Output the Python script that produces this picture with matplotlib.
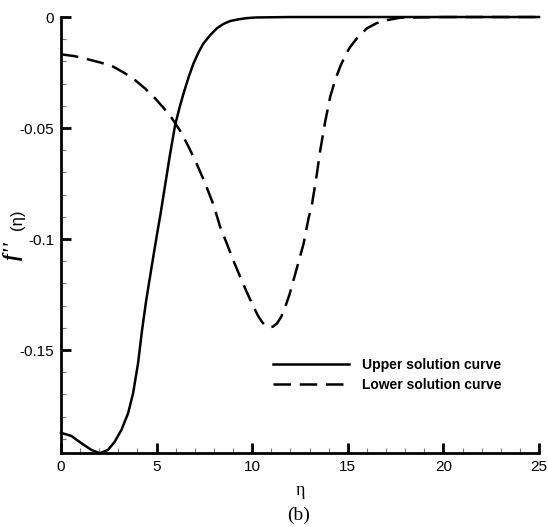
import matplotlib
matplotlib.use('Agg')
import matplotlib.pyplot as plt
from matplotlib.ticker import MultipleLocator

# values
eta_upper = [0.0, 0.54, 1.07, 1.59, 2.03, 2.46, 2.81, 3.16, 3.51, 3.77, 4.03, 4.24,
             4.45, 4.75, 5.0, 5.2, 5.45, 5.7, 5.97, 6.2, 6.41, 6.67, 6.93, 7.2, 7.45,
             7.8, 8.15, 8.5, 8.85, 9.3, 9.72, 10.2, 12.0, 16.0, 20.0, 25.0]
f2_upper = [-0.1873, -0.1887, -0.192, -0.195, -0.1965, -0.195, -0.1913, -0.186, -0.1785,
            -0.1695, -0.156, -0.141, -0.128, -0.112, -0.099, -0.089, -0.0755, -0.062,
            -0.0486, -0.0408, -0.0344, -0.0272, -0.0209, -0.0158, -0.0119, -0.0082,
            -0.0051, -0.0031, -0.0018, -0.0010, -0.0005, -0.0002, 0.0, 0.0, 0.0, 0.0]

eta_lower = [0.0, 0.7, 1.43, 2.1, 2.74, 3.3, 3.87, 4.4, 4.92, 5.35, 5.8, 6.25, 6.67,
             7.1, 7.54, 7.98, 8.32, 8.67, 9.02, 9.37, 9.72, 10.07, 10.3, 10.5, 10.7,
             10.86, 11.08, 11.3, 11.52, 11.73, 11.95, 12.16, 12.42, 12.69, 12.95, 13.12,
             13.35, 13.56, 13.82, 14.08, 14.34, 14.6, 14.87, 15.13, 15.55, 16.0, 16.5,
             17.05, 17.75, 20.0, 25.0]
f2_lower = [-0.0168, -0.0176, -0.0191, -0.0206, -0.0224, -0.0251, -0.0284, -0.0322,
            -0.0366, -0.0408, -0.0456, -0.0515, -0.0584, -0.0662, -0.0749, -0.0847,
            -0.0944, -0.102, -0.1098, -0.117, -0.124, -0.1305, -0.1345, -0.1372,
            -0.1392, -0.1398, -0.1395, -0.138, -0.1350, -0.1305, -0.125, -0.1185,
            -0.1105, -0.102, -0.0905, -0.0847, -0.0725, -0.060, -0.047, -0.0359,
            -0.0283, -0.0224, -0.0172, -0.0134, -0.0088, -0.0051, -0.0028, -0.0014,
            -0.0003, 0.0, 0.0]

labels = ['Upper solution curve', 'Lower solution curve']
yticks = [0, -0.05, -0.1, -0.15]
ytick_labels = ['0', '-0.05', '-0.1', '-0.15']
xticks = [0, 5, 10, 15, 20, 25]

fig = plt.figure(figsize=(5.48, 5.27), dpi=100)
ax = fig.add_axes([0.1113, 0.1404, 0.8723, 0.8273])

ax.plot(eta_upper, f2_upper, color='black', lw=1.8, clip_on=False, label=labels[0])
ax.plot(eta_lower, f2_lower, color='black', lw=1.8, dashes=(7, 3.5), clip_on=False,
        label=labels[1])

ax.set_xlim(0, 25)
ax.set_ylim(-0.1964, 0)

for s in ['top', 'right']:
    ax.spines[s].set_visible(False)
for s in ['left', 'bottom']:
    ax.spines[s].set_linewidth(2)

ax.set_xticks(xticks)
ax.set_xticklabels([str(x) for x in xticks])
ax.set_yticks(yticks)
ax.set_yticklabels(ytick_labels)
ax.xaxis.set_minor_locator(MultipleLocator(1))
ax.yaxis.set_minor_locator(MultipleLocator(0.01))
ax.tick_params(which='major', direction='in', length=7.5, width=2, pad=5,
               labelsize=11, labelfontfamily='Liberation Sans')
ax.tick_params(which='minor', direction='in', length=3.8, width=0.8, color='#777777')

ax.set_xlabel('η', family='Liberation Serif', fontsize=13, labelpad=6)
fig.text(0.545, 0.022, '(b)', family='Liberation Serif', fontsize=14, ha='center',
         va='center')

# y label: bold italic f'' followed by (eta)
fig.text(0.024, 0.524, "f''", family='Liberation Serif', fontweight='bold',
         fontstyle='italic', fontsize=15, rotation=90, ha='center', va='center')
fig.text(0.032, 0.5825, '(η)', family='Liberation Sans', fontsize=12, rotation=90,
         ha='center', va='center')

ax.legend(loc='upper left', bbox_to_anchor=(0.4435, 0.218), frameon=False,
          borderpad=0, borderaxespad=0, handlelength=5.5, handletextpad=0.9,
          labelspacing=0.45, prop={'family': 'Liberation Sans', 'weight': 'bold',
                                   'size': 10})

plt.savefig('out.png', dpi=100)
